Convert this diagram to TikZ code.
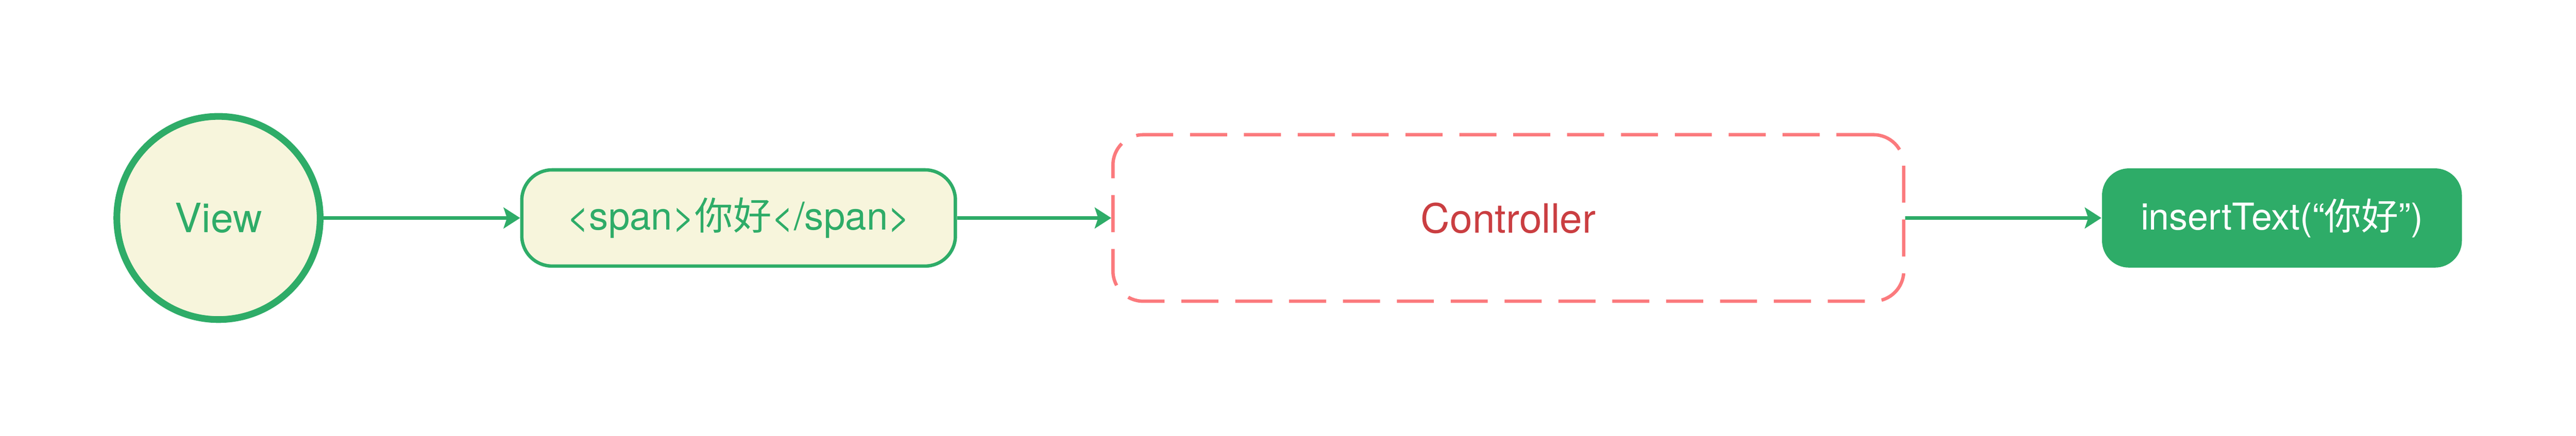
\documentclass[tikz,border=0pt]{standalone}
\usepackage{fontspec}
\setmainfont{TeX Gyre Heros}
\newfontfamily\cjk{Noto Sans CJK SC}
\usetikzlibrary{arrows.meta}
\definecolor{flowGreen}{HTML}{2EAC68}
\definecolor{viewFill}{HTML}{F7F5DC}
\definecolor{ctrlRed}{HTML}{CA3E41}
\definecolor{ctrlDash}{HTML}{FB7A7D}
\newcommand\boxRound{9pt}

\begin{document}
\begin{tikzpicture}[x=1pt, y=1pt,
    flow/.style={draw=flowGreen, line width=1pt, -{Stealth[length=4.9pt, width=6.2pt, inset=1pt]}},
    stagebox/.style={rounded corners=\boxRound, inner sep=0pt, align=center}]
    \useasboundingbox (0,0) rectangle (765.2,129.6);
    % Draw the view circle
    \node [circle, draw=flowGreen, line width=2pt, fill=viewFill, minimum size=60.4pt, inner sep=0pt,
        text=flowGreen, font=\fontsize{12}{14}\selectfont] (view) at (64.9,64.8) {View};
    % Draw the span box
    \node [stagebox, draw=flowGreen, line width=1pt, fill=viewFill, minimum width=128.8pt, minimum height=28.6pt,
        text=flowGreen, font=\fontsize{11.4}{13}\selectfont] (span) at (219.4,64.8) {<span>{\cjk 你好}</span>};
    % Draw the controller box
    \node [stagebox, draw=ctrlDash, line width=1pt, dash pattern=on 11pt off 5pt, minimum width=234.9pt, minimum height=49.5pt,
        text=ctrlRed, font=\fontsize{12}{14}\selectfont] (controller) at (448.05,64.8) {Controller};
    % Draw the insert box
    \node [stagebox, rounded corners=8pt, fill=flowGreen, minimum width=106.9pt, minimum height=29.5pt,
        text=white, font=\fontsize{11}{13}\selectfont] (insert) at (677.85,64.8) {insertText(“{\cjk 你好}”)};
    % Draw the arrows
    \foreach \from/\to in {view/span, span/controller, controller/insert}
        \draw [flow] (\from) -- (\to);
\end{tikzpicture}
\end{document}
